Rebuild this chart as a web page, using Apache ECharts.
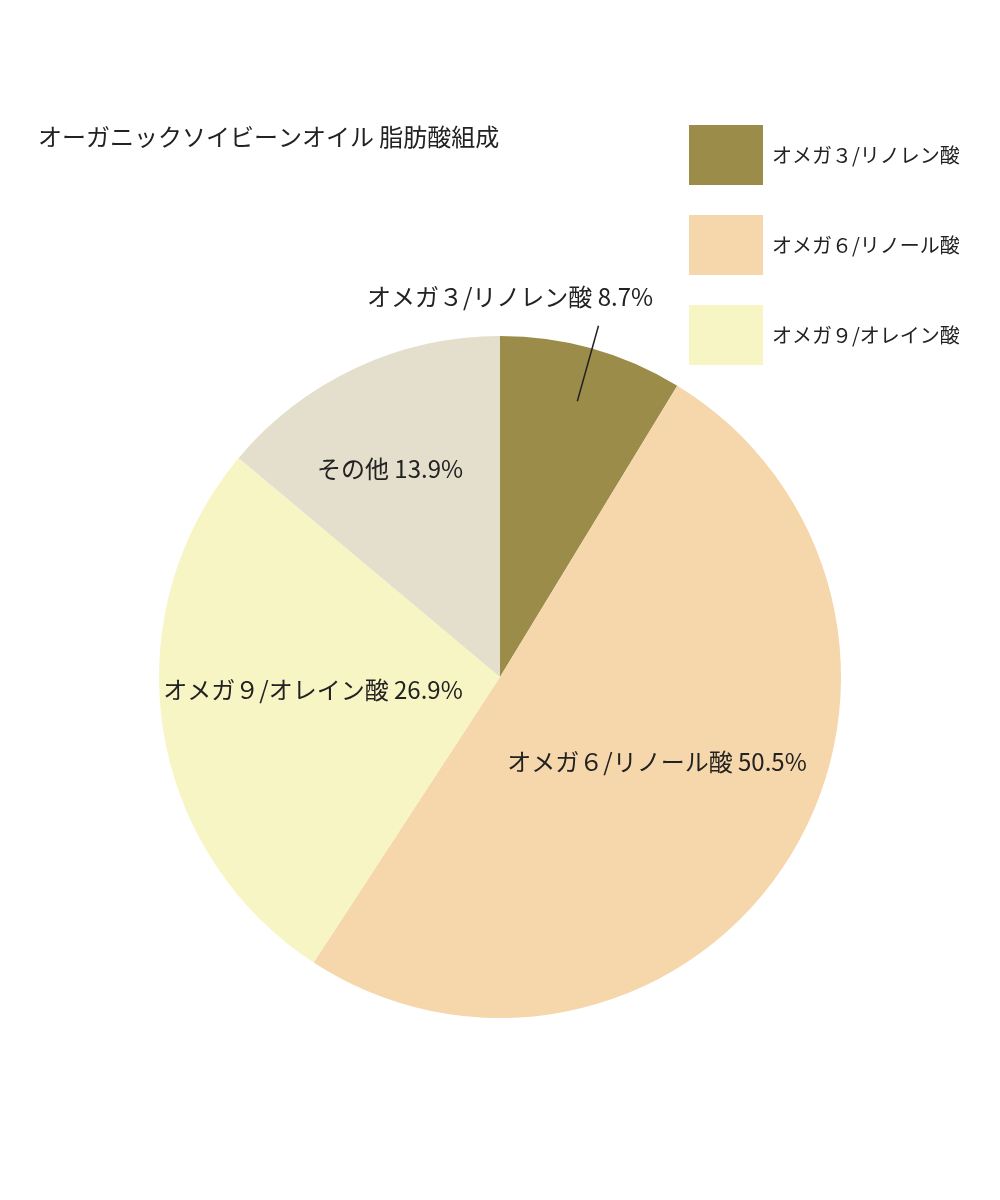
<!DOCTYPE html>
<html>
<head>
<meta charset="UTF-8">
<title>オーガニックソイビーンオイル 脂肪酸組成</title>
<script src="https://cdn.jsdelivr.net/npm/echarts@6/dist/echarts.min.js"></script>
<style>
  html, body { margin: 0; padding: 0; background: #fff; }
  #main { width: 1000px; height: 1200px; }
</style>
</head>
<body>
<div id="main"></div>
<script>
// データ
var names = ['オメガ３/リノレン酸', 'オメガ６/リノール酸', 'オメガ９/オレイン酸', 'その他'];
var values = [8.7, 50.5, 26.9, 13.9];
var colors = ['#9c8c4a', '#f6d6ab', '#f8f5c5', '#e3dfcc'];
var legendNames = names.slice(0, 3);

// ラベルの位置（画面座標）
var labelPos = [[510, 297], [657, 762], [313, 690], [390, 469]];

var font = '"Noto Sans CJK JP", "Noto Sans", sans-serif';
var cx = 500, cy = 677, R = 341;

// オメガ３の引き出し線：扇形の中心角方向
var total = values.reduce(function (a, b) { return a + b; }, 0);
var midAng = (values[0] / total) * Math.PI; // 上から時計回り
function polar(r) {
  return [cx + r * Math.sin(midAng), cy - r * Math.cos(midAng)];
}
var p1 = polar(R * 0.84), p2 = polar(R * 1.07);

var myChart = echarts.init(document.getElementById('main'));

var option = {
  backgroundColor: '#fff',
  textStyle: { fontFamily: font },
  title: {
    text: 'オーガニックソイビーンオイル 脂肪酸組成',
    left: 33,
    top: 120,
    textStyle: { fontSize: 24, fontWeight: 'normal', color: '#222', fontFamily: font }
  },
  legend: {
    data: legendNames,
    orient: 'vertical',
    left: 684,
    top: 120,
    itemWidth: 74,
    itemHeight: 60,
    itemGap: 30,
    icon: 'rect',
    selectedMode: false,
    textStyle: { fontSize: 20, color: '#222', padding: [0, 0, 0, 4], fontFamily: font }
  },
  graphic: [{
    type: 'line',
    z: 100,
    shape: { x1: p1[0], y1: p1[1], x2: p2[0], y2: p2[1] },
    style: { stroke: '#222', lineWidth: 1.5 }
  }],
  series: [{
    type: 'pie',
    center: [cx, cy],
    radius: R,
    startAngle: 90,
    clockwise: true,
    silent: true,
    label: {
      show: true,
      position: 'outside',
      fontSize: 24,
      color: '#222',
      fontFamily: font,
      overflow: 'none',
      width: 400,
      formatter: function (p) { return p.name + ' ' + p.value + '%'; }
    },
    labelLine: { show: false },
    labelLayout: function (params) {
      var i = params.dataIndex;
      return {
        x: labelPos[i][0],
        y: labelPos[i][1],
        align: 'center',
        verticalAlign: 'middle'
      };
    },
    data: names.map(function (n, i) {
      return { name: n, value: values[i], itemStyle: { color: colors[i] } };
    })
  }]
};

myChart.setOption(option);
</script>
</body>
</html>
